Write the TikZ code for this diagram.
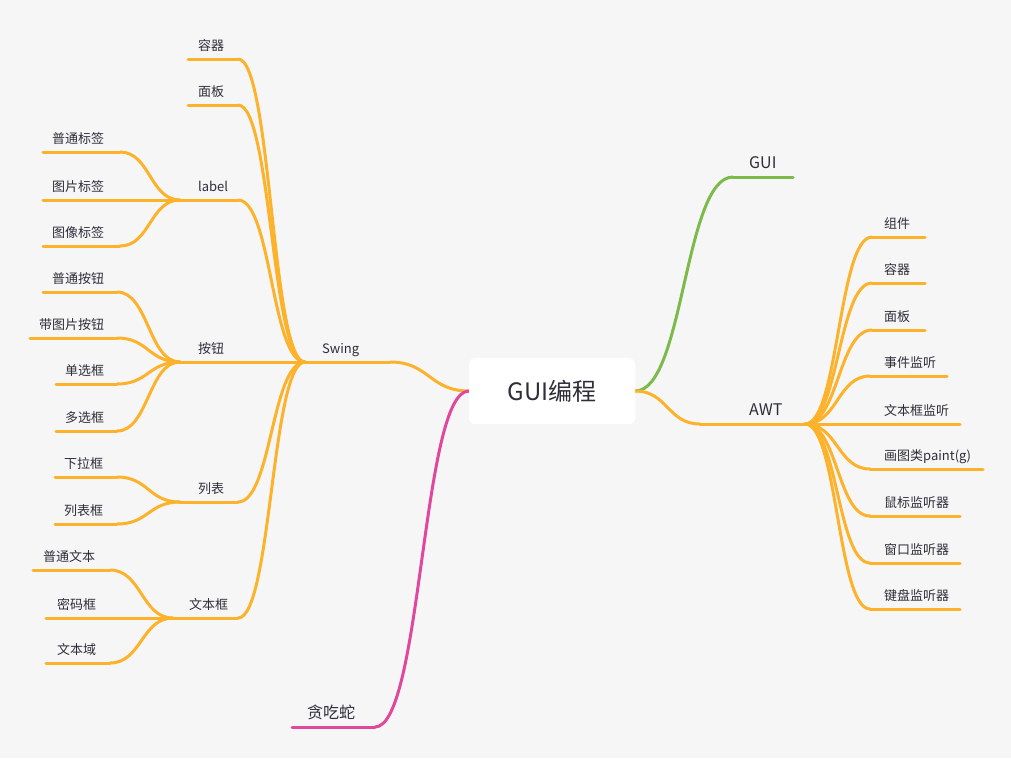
\documentclass[tikz,border=0pt]{standalone}
\usepackage{fontspec}
\setmainfont{Noto Sans CJK SC}
\usetikzlibrary{calc}
\definecolor{bg}{HTML}{F6F6F6}
\definecolor{org}{HTML}{FDB22B}
\definecolor{grn}{HTML}{7CBB4B}
\definecolor{pnk}{HTML}{E0489E}
\definecolor{txt}{HTML}{2E2E3A}
\newcommand\conn[3]{%
  \coordinate (cm) at ($(#2)!0.5!(#3)$);
  \draw[#1] (#2) .. controls (cm |- #2) and (cm |- #3) .. (#3);}
\newcommand\leaf[6]{%
  \coordinate (#1a) at (#2,#4);
  \coordinate (#1b) at (#3,#4);
  \draw[br] (#1a) -- (#1b);
  \node[lf] (#1) at (#5,#4-9) {#6};}
\begin{document}
\begin{tikzpicture}[x=1pt,y=-1pt,line cap=round,
  br/.style={draw=org,line width=3pt},
  gr/.style={draw=grn,line width=3pt},
  pk/.style={draw=pnk,line width=3pt},
  lf/.style={font=\fontsize{13}{15}\selectfont,text=txt,anchor=base west,inner sep=0pt},
  mid/.style={font=\fontsize{16}{19}\selectfont,text=txt,anchor=base west,inner sep=0pt}]
\path[use as bounding box,fill=bg] (0,0) rectangle (1011,758);

% ---------- root connectors ----------
\node[inner sep=0pt,minimum width=166pt,minimum height=66pt] (root) at (552,391) {};
% Swing
\coordinate (swJ) at (305,362);
\coordinate (swE) at (390,362);
\draw[br] (swJ) -- (swE);
\conn{br}{swE}{root.west}
\node[lf] (swing) at (322,353) {Swing};
% snake
\coordinate (snA) at (292,727);
\coordinate (snB) at (375,727);
\draw[pk] (snA) -- (snB);
\conn{pk}{snB}{root.west}
\node[mid] (snake) at (307,718) {贪吃蛇};
% GUI
\coordinate (guiA) at (733,177);
\coordinate (guiB) at (793,177);
\draw[gr] (guiA) -- (guiB);
\conn{gr}{root.east}{guiA}
\node[mid] (gui) at (749,168) {GUI};
% AWT
\coordinate (awtA) at (700,424);
\coordinate (awtJ) at (805,424);
\draw[br] (awtA) -- (awtJ);
\conn{br}{root.east}{awtA}
\node[mid] (awt) at (749,415) {AWT};

% ---------- Swing children ----------
\leaf{rq}{188}{238}{59}{198}{容器}
\conn{br}{rqb}{swJ}
\leaf{mb}{188}{238}{105}{198}{面板}
\conn{br}{mbb}{swJ}

% label
\coordinate (labJ) at (180,200);
\coordinate (labE) at (238,200);
\draw[br] (labJ) -- (labE);
\conn{br}{labE}{swJ}
\node[lf] (label) at (198,191) {label};
\leaf{pt}{43}{120}{152}{52}{普通标签}
\conn{br}{ptb}{labJ}
\leaf{tp}{43}{180}{200}{52}{图片标签}
\leaf{tx}{43}{120}{246}{52}{图像标签}
\conn{br}{txb}{labJ}

% buttons
\coordinate (btJ) at (180,362);
\draw[br] (btJ) -- (swJ);
\node[lf] (btn) at (198,353) {按钮};
\leaf{ba}{43}{117}{292}{52}{普通按钮}
\conn{br}{bab}{btJ}
\leaf{bb}{30}{117}{338}{39}{带图片按钮}
\conn{br}{bbb}{btJ}
\leaf{bc}{56}{117}{384}{65}{单选框}
\conn{br}{bcb}{btJ}
\leaf{bd}{56}{117}{431}{65}{多选框}
\conn{br}{bdb}{btJ}

% list
\coordinate (liJ) at (180,502);
\coordinate (liE) at (238,502);
\draw[br] (liJ) -- (liE);
\conn{br}{liE}{swJ}
\node[lf] (list) at (198,493) {列表};
\leaf{la}{55}{117}{477}{64}{下拉框}
\conn{br}{lab}{liJ}
\leaf{lb}{55}{117}{524}{64}{列表框}
\conn{br}{lbb}{liJ}

% text field
\coordinate (tfJ) at (173,618);
\coordinate (tfE) at (238,618);
\draw[br] (tfJ) -- (tfE);
\conn{br}{tfE}{swJ}
\node[lf] (tf) at (189,609) {文本框};
\leaf{ta}{33}{110}{570}{43}{普通文本}
\conn{br}{tab}{tfJ}
\leaf{tb}{46}{173}{618}{57}{密码框}
\leaf{tc}{46}{110}{663}{57}{文本域}
\conn{br}{tcb}{tfJ}

% ---------- AWT children ----------
\leaf{ra}{872}{925}{237}{884}{组件}
\conn{br}{awtJ}{raa}
\leaf{rb}{872}{925}{283}{884}{容器}
\conn{br}{awtJ}{rba}
\leaf{rc}{872}{925}{330}{884}{面板}
\conn{br}{awtJ}{rca}
\leaf{rd}{870}{947}{376}{884}{事件监听}
\conn{br}{awtJ}{rda}
\leaf{re}{805}{960}{424}{884}{文本框监听}
\leaf{rf}{870}{983}{469}{884}{画图类paint(g)}
\conn{br}{awtJ}{rfa}
\leaf{rg}{870}{960}{516}{884}{鼠标监听器}
\conn{br}{awtJ}{rga}
\leaf{rh}{870}{960}{563}{884}{窗口监听器}
\conn{br}{awtJ}{rha}
\leaf{ri}{870}{960}{609}{884}{键盘监听器}
\conn{br}{awtJ}{ria}

% ---------- root box on top ----------
\node[fill=white,rounded corners=6pt,inner sep=0pt,minimum width=166pt,minimum height=66pt,
      font=\fontsize{24}{28}\selectfont,text=txt] (rootbox) at (root.center) {GUI编程};
\end{tikzpicture}
\end{document}
